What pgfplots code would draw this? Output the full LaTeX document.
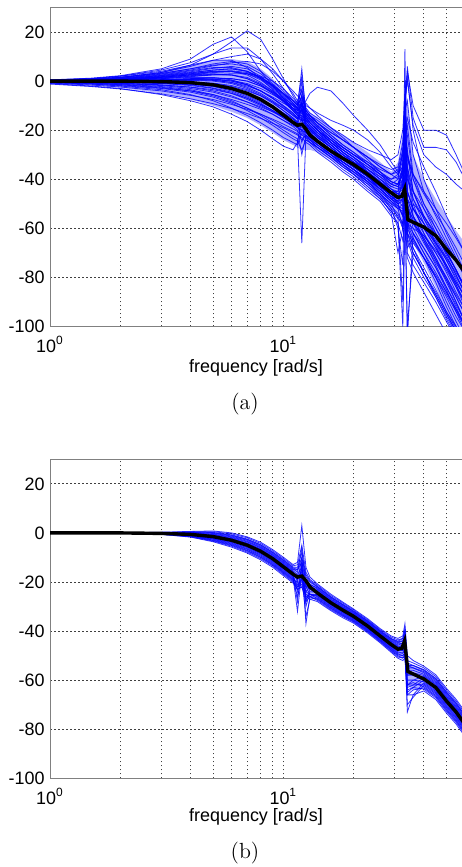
\documentclass[border=0pt]{standalone}
\usepackage{pgfplots}
\pgfplotsset{compat=1.18}
\usepackage{pgfplotstable}
\usepackage{fontspec}
\newfontfamily\arial{Liberation Sans}

% Monte Carlo runs, one row per run, transposed below (first row = frequency)
\pgfplotstableread{
name c1 c2 c3 c4 c5 c6 c7 c8 c9 c10 c11 c12 c13 c14 c15 c16 c17 c18 c19 c20 c21 c22 c23 c24 c25 c26 c27 c28 c29 c30 c31 c32 c33
x 1 1.5 2 3 4 5 6 7 8 9 10 11 11.5 12 12.5 13 14 16 18 20 23 26 29 31 32.5 33.2 34 36 40 45 50 55 60
U1 0.3 0.8 1.5 3.5 6.5 11 16 20.5 17 9 1 -6 -9 -10 -12 -14 -17 -22 -26 -29 -33 -37 -41 -42 -38 -30 -45 -52 -60 -68 -75 -82 -88
U2 0.5 1.2 2.2 5 9 15 18 12 4 -2 -7 -11 -13 -12 -15 -17 -20 -25 -29 -32 -37 -41 -45 -46 -43 -38 -50 -57 -65 -73 -80 -87 -93
U3 0.4 1 2 4.5 7.5 11 13.5 13.5 9 3 -3 -8 -10 5 -14 -16 -19 -24 -28 -31 -35 -39 -43 -44 -36 -20 -40 -48 -56 -64 -72 -79 -86
U4 0.3 0.8 1.5 3.5 6 8.5 10 11 9 5 0 -5 -8 -4 -12 -14 -17 -22 -26 -29 -34 -38 -42 -43 -40 -30 -48 -55 -62 -70 -77 -84 -90
U5 0.5 1 2 4 6.5 8.5 8.5 5.5 1 -3.5 -8 -12 -14 -15 -17 -19 -22 -27 -31 -34 -39 -44 -48 -50 -49 -40 -55 -62 -70 -78 -86 -93 -100
U6 0.2 0.6 1.2 2.8 4.5 6.2 7.5 8 7 4 0 -4 -6 -8 -9 -11 -14 -19 -23 -27 -32 -37 -41 -42 -38 -25 -30 -40 -50 -58 -66 -73 -80
U7 0.2 0.5 1 2.3 3.8 5.2 6 5 2 -2 -6 -10 -12 -10 -14 -17 -20 -25 -29 -32 -37 -41 -45 -45 -35 -10 -35 -45 -55 -63 -70 -77 -84
U8 0.1 0.3 0.7 1.5 2.7 3.8 4 3 0.5 -3 -7 -11 -13 -8 -16 -18 -21 -26 -30 -33 -37 -41 -44 -46 -44 -20 -52 -58 -66 -74 -81 -88 -95
U9 0 0.2 0.5 1.2 2 2.6 3 3 2 0 -3 -7 -9 2 -12 -14 -17 -21 -24 -27 -31 -35 -38 -40 -36 -22 -40 -45 -52 -60 -67 -73 -79
M1 0 0 0.2 0.5 0.8 0.8 0 -1.5 -4 -7 -10 -13 -15 -12 -17 -19 -22 -26 -30 -33 -37 -41 -45 -47 -45 -30 -52 -56 -60 -66 -72 -78 -84
M2 -0.2 -0.3 -0.4 -0.7 -1.2 -2.2 -4 -6.5 -9 -12 -15 -17.5 -19 -15 -21 -23 -25 -29 -32 -35 -39 -43 -47 -49 -48 -43 -58 -60 -63 -69 -75 -82 -88
M3 0.1 0.2 0.4 1 1.5 1.5 0.5 -1.5 -4 -7 -10 -13 -15 -16 -18 -20 -23 -27 -31 -34 -39 -43 -47 -48 -40 0 -30 -45 -55 -63 -70 -77 -84
M4 -0.3 -0.5 -0.8 -1.5 -2.5 -4 -6 -8.5 -11 -13.5 -16 -18.5 -20 -30 -22 -24 -26 -30 -34 -37 -41 -45 -49 -51 -55 -48 -62 -66 -72 -79 -86 -93 -99
M5 0 0.1 0.3 0.6 1 1.2 1 0 -2 -5 -8 -11 -12 0 -16 -17 -20 -24 -28 -31 -36 -40 -44 -45 -42 -35 -48 -52 -58 -66 -73 -80 -86
M6 -0.1 -0.2 -0.3 -0.4 -0.8 -1.8 -3.5 -6 -8.5 -11 -14 -17 -18 -25 -20 -22 -25 -29 -33 -36 -40 -45 -49 -52 -60 -10 -50 -60 -68 -76 -84 -91 -98
M7 0.2 0.4 0.8 1.8 3 4 4 2.5 -0.5 -4 -8 -12 -14 -14 -16 -18 -21 -26 -30 -34 -39 -44 -49 -52 -50 -38 -62 -70 -78 -86 -94 -100 -106
M8 -0.2 -0.3 -0.5 -0.9 -1.5 -2.8 -4.5 -7 -9.5 -12 -14.5 -16.5 -17 -5 -20 -22 -25 -29 -33 -36 -41 -46 -52 -60 -75 -40 -65 -72 -80 -88 -96 -103 -110
M9 0.3 0.6 1.2 2.5 4.2 5.5 5.5 4 1 -2.5 -6.5 -10 -11.5 -12 -14 -16 -19 -24 -28 -31 -36 -40 -44 -46 -47 -20 -45 -52 -60 -68 -76 -83 -90
M10 -0.1 -0.1 -0.2 -0.3 -0.4 -0.8 -1.8 -3.5 -6 -9 -12 -15 -17 -19 -20 -22 -25 -30 -34 -38 -43 -48 -53 -58 -100 -60 -58 -68 -78 -88 -97 -104 -110
M11 0.4 0.9 1.6 3.2 5 6.5 7 6 3 -1 -5 -9 -11 -13 -15 -17 -20 -25 -29 -33 -38 -42 -46 -48 -49 -45 -35 -55 -65 -75 -84 -92 -100
M12 -0.3 -0.6 -1 -1.8 -3 -4.5 -6.5 -8.5 -10.5 -12.5 -14.5 -16.5 -17.5 -22 -19 -21 -24 -28 -32 -35 -39 -43 -47 -50 -55 -30 -58 -64 -72 -80 -87 -94 -100
L1 -0.5 -1 -1.5 -2.8 -4 -5.5 -7.5 -9.5 -11.5 -13.5 -16 -18 -19 -20 -21 -22.5 -25 -29 -33 -36 -41 -46 -50 -52 -53 -50 -60 -65 -72 -80 -88 -96 -102
L2 -0.8 -1.6 -2.4 -4 -5.8 -7.5 -9.5 -11.5 -13.5 -15.5 -17.5 -19.5 -20.5 -22 -23 -24 -27 -31 -35 -38 -43 -47 -52 -55 -60 -45 -70 -75 -82 -90 -98 -105 -110
L3 -1.2 -2.2 -3.2 -5.2 -7.2 -9.2 -11.2 -13.2 -15.2 -17.2 -19 -21 -22 -23 -25 -26 -29 -33 -37 -40 -45 -49 -55 -58 -65 -55 -72 -78 -86 -95 -103 -110 -115
L4 -1 -2 -3 -5.5 -8 -10.5 -13.5 -16.5 -20 -23.5 -26.5 -28 -25 -15 -23 -25 -28 -32 -36 -39 -44 -48 -53 -56 -58 -52 -64 -70 -78 -87 -95 -102 -108
L5 -0.6 -1.2 -2 -3.5 -5.5 -8 -11 -14 -17 -20 -23 -25 -26 -20 -24 -25 -27 -31 -34 -37 -42 -47 -54 -70 -60 -55 -62 -68 -76 -85 -94 -101 -107
L6 -0.4 -0.8 -1.2 -2.2 -3.5 -5.5 -8 -11 -14 -17 -20 -22.5 -23.5 -66 -22 -24 -27 -31 -35 -38 -42 -46 -51 -54 -58 -48 -105 -62 -70 -80 -90 -98 -105
O1 0 0 0.1 0.3 0.5 0.3 -0.5 -2 -4 -6.5 -9 -11 -12 -10 -8 -5 -2.5 -4 -9 -14 -20 -26 -33 -37 -35 -20 -32 -38 -45 -52 -58 -64 -70
O2 0.2 0.5 1 2.2 3.5 4.5 5 4 1.5 -1.5 -5 -8 -9.5 -7 -11 -13 -15 -19 -22 -25 -28 -30 -32 -30 -20 -5 4 -10 -20 -20 -22 -30 -38
O3 0 0.1 0.2 0.6 1 1.3 1 0 -2 -4.5 -7 -9.5 -11 -9 -13 -15 -17 -21 -24 -27 -31 -35 -38 -37 -30 -15 6 -15 -27 -27 -28 -33 -40
O4 0.1 0.3 0.6 1.5 2.5 3.5 3.8 3 1 -2 -5 -8 -10 -3 -12 -14 -16 -20 -24 -27 -31 -34 -36 -35 -25 -8 0 -18 -30 -35 -38 -42 -45
O5 0 0 0.1 0.4 0.7 0.8 0.3 -1 -3 -5.5 -8 -10 -11 -6 -10 -11 -13 -16 -18 -20 -24 -29 -35 -38 -35 -25 -30 -38 -46 -54 -61 -68 -75
O6 0 0 0 -0.1 -0.4 -1 -2.2 -4 -6 -8.5 -11 -14 -15.5 -9 -18 -20 -23 -27 -31 -34 -38 -42 -46 -48 -45 13 -60 -50 -55 -62 -70 -77 -84
E1 0 0 0.1 0.3 0.5 0.6 0 -1.5 -4 -7 -10.5 -13.5 -15 -11 -17 -19 -22 -26 -30 -33 -36 -39 -42 -40 -28 -12 -8 -30 -45 -55 -64 -72 -80
E2 0.1 0.2 0.5 1 1.8 2.5 2.5 1.5 -1 -4 -7.5 -11 -13 -9 -15 -17 -20 -25 -29 -32 -36 -40 -43 -42 -35 -25 -18 -38 -50 -60 -69 -77 -85
E3 -0.2 -0.4 -0.6 -1 -1.8 -3 -5 -7.5 -10 -12.5 -15 -17.5 -19 -20 -21 -23 -26 -30 -33 -36 -40 -44 -48 -47 -42 -30 -38 -50 -62 -72 -81 -90 -98
E4 0.2 0.5 0.9 2 3.3 4.5 5 4 1.5 -2 -5.5 -9 -11 -9 -13 -15 -18 -23 -27 -30 -34 -38 -42 -43 -38 -15 -22 -40 -52 -62 -71 -79 -87
E5 -0.4 -0.8 -1.4 -2.5 -4 -6 -8.5 -11 -13.5 -16 -18.5 -20.5 -21.5 -24 -22 -23.5 -26 -30 -34 -37 -41 -46 -50 -56 -90 -50 -100 -70 -78 -87 -95 -102 -108
E6 0 0.1 0.2 0.4 0.6 0.4 -0.6 -2.5 -5 -8 -11 -14 -15.5 -13 -17 -19.5 -22.5 -27 -31 -34 -38 -43 -47 -49 -51 -45 -56 -58 -63 -70 -78 -86 -93
E7 0.3 0.7 1.4 3 5 7 8 7 4 0 -4 -8 -10 -6 -13 -15 -18 -23 -27 -30 -34 -38 -41 -42 -36 -22 -28 -45 -56 -66 -75 -83 -91
E8 -0.1 -0.2 -0.3 -0.6 -1 -1.8 -3 -5 -7.5 -10 -13 -15.5 -17 -18 -19 -21 -24 -28 -32 -35 -39 -43 -46 -45 -40 -25 -48 -55 -64 -73 -82 -90 -98
E9 0.2 0.4 0.8 1.6 2.5 3 2.5 1 -1.5 -5 -8.5 -12 -14 -16 -16 -18 -21 -25 -28 -31 -35 -38 -40 -38 -30 -20 -15 -25 -35 -45 -55 -63 -70
E10 -0.3 -0.6 -0.9 -1.6 -2.4 -3.5 -5 -7 -9.5 -12 -14.5 -17 -18.5 -10 -21 -22 -25 -29 -33 -36 -40 -44 -48 -51 -52 -48 -58 -62 -68 -76 -85 -94 -102
E11 0.1 0.3 0.6 1.3 2.2 2.8 2.5 1 -1.5 -4.5 -8 -11.5 -13.5 -12 -15 -17 -20 -24 -27 -30 -33 -36 -38 -36 -28 -10 2 -20 -40 -52 -62 -70 -78
E12 -0.6 -1.2 -1.8 -3 -4.5 -6.5 -9 -12 -15 -18 -21 -23.5 -24.5 -28 -24 -25 -27 -30 -33 -36 -40 -44 -48 -50 -48 -42 -55 -58 -64 -72 -80 -88 -95
E13 0 0 0.1 0.2 0.3 0 -1 -3 -5.5 -8.5 -12 -15 -16.5 -14 -18 -20 -23 -27 -31 -34 -38 -42 -46 -50 -55 -20 -68 -64 -72 -82 -92 -100 -108
E14 0.2 0.4 0.8 1.8 3 4 4.2 3.5 1.5 -1.5 -5 -9 -11 -11.5 -13 -15.5 -18.5 -23 -27 -30 -34 -37 -40 -39 -32 -18 -35 -48 -58 -67 -76 -84 -92
E15 -0.2 -0.3 -0.5 -0.9 -1.3 -2 -3.2 -5.2 -7.5 -10.5 -13 -15.5 -17 -20 -19 -21 -24 -28.5 -32 -35 -39 -43 -47 -49 -45 -35 -45 -52 -58 -65 -73 -81 -88
}\rawA
\pgfplotstabletranspose[colnames from=name]\dataA{\rawA}

% dense core of the runs in (a): upper edge left to right, lower edge back
\pgfplotstableread{
x y
1 0.5
1.5 1
2 1.8
3 4
4 6.5
5 8.5
6 9
7 8
8 5
9 1
10 -4
11 -8
12 -8
13 -13
14 -15
16 -19
18 -22
20 -25
23 -29
26 -33
29 -37
31 -33
32.5 -22
33.2 -5
34 -8
36 -30
40 -40
45 -48
50 -55
55 -61
60 -66
60 -110
55 -104
50 -95
45 -84
40 -74
36 -66
34 -62
33.2 -55
32.5 -58
31 -55
29 -52
26 -47
23 -42
20 -38
18 -35
16 -32
14 -29
13 -28
12 -28
11 -26
10 -24
9 -21
8 -18
7 -15
6 -12.5
5 -10
4 -7.5
3 -5
2 -2.7
1.5 -1.8
1 -1
}\envA

\pgfplotstableread{
name c1 c2 c3 c4 c5 c6 c7 c8 c9 c10 c11 c12 c13 c14 c15 c16 c17 c18 c19 c20 c21 c22 c23 c24 c25 c26 c27 c28 c29 c30 c31 c32 c33
x 1 1.5 2 3 4 5 6 7 8 9 10 11 11.5 12 12.5 13 14 16 18 20 23 26 29 31 32.5 33.2 34 36 40 45 50 55 60
B1 0 0 0 0.3 0.6 0.8 0 -1.6 -3.8 -6.8 -9.9 -12.9 -12 3 -14 -18 -20.8 -25 -28.2 -31 -35 -39 -42 -43 -42 -37 -50 -52 -54.3 -57.8 -63.3 -67.8 -72.8
B2 0 0 0 0.2 0.4 0.5 -0.4 -2 -4.3 -7.3 -10.4 -13.4 -13 -5 -16 -19 -21.3 -25.5 -28.6 -31.4 -35.4 -39.4 -42.5 -43.6 -43 -39 -52 -53 -55 -58.5 -64 -68.5 -73.5
B3 0 0 0 0.1 0.3 0.2 -0.8 -2.5 -4.8 -7.8 -10.9 -13.9 -14 -8 -17 -19.5 -21.8 -26 -29.1 -31.8 -35.8 -39.8 -43 -44.1 -43 -40 -53 -54 -55.7 -59.2 -64.7 -69.2 -74.2
B4 0 0 0 0.1 0.2 0 -1 -2.7 -5 -8 -11.2 -14.2 -15 -10 -18 -20 -22 -26.2 -29.3 -32 -36 -40 -43.2 -44.4 -44 -41 -54 -54 -56 -59.5 -65 -69.5 -74.5
B5 0 0 0 0.1 0.1 -0.2 -1.3 -3 -5.4 -8.4 -11.6 -14.6 -16 -6 -22 -21 -22.4 -26.5 -29.6 -32.3 -36.3 -40.3 -43.5 -44.8 -44 -42 -55 -55 -56.5 -60 -65.5 -70 -75
B6 0 0 0 0 0 -0.5 -1.6 -3.4 -5.8 -8.8 -12 -15 -15 -12 -20 -21 -22.8 -26.9 -30 -32.6 -36.6 -40.6 -43.9 -45.2 -45 -42 -54 -55 -57 -60.6 -66 -70.6 -75.6
B7 0 0 0 0 -0.2 -0.7 -1.9 -3.7 -6.1 -9.1 -12.4 -15.4 -17 -14 -24 -22 -23.1 -27.2 -30.3 -32.9 -36.9 -40.9 -44.2 -45.7 -45 -43 -56 -56 -57.6 -61.1 -66.6 -71.1 -76.1
B8 0 0 0 -0.1 -0.3 -0.9 -2.2 -4.1 -6.5 -9.5 -12.8 -15.8 -20 -10 -28 -23 -23.5 -27.6 -30.6 -33.2 -37.2 -41.2 -44.6 -46.1 -46 -44 -58 -57 -58.1 -61.6 -67.1 -71.6 -76.6
B9 0 0 0 -0.1 -0.4 -1.1 -2.4 -4.3 -6.8 -9.8 -13 -16 -19 -15 -22 -23 -23.8 -27.8 -30.8 -33.4 -37.4 -41.4 -44.8 -46.4 -46 -44 -60 -60 -58.5 -62 -67.5 -72 -77
B10 0 0 0 -0.2 -0.5 -1.3 -2.7 -4.7 -7.1 -10.1 -13.4 -16.4 -24 -13 -30 -24 -24.1 -28.2 -31.2 -33.7 -37.7 -41.7 -45.2 -46.8 -47 -45 -62 -62 -59 -62.5 -68 -72.5 -77.5
B11 0 0 0 -0.2 -0.6 -1.5 -3 -5 -7.5 -10.5 -13.8 -16.8 -18 -16 -21 -23 -24.5 -28.5 -31.5 -34 -38 -42 -45.5 -47.2 -47 -46 -58 -58 -59.5 -63 -68.5 -73 -78
B12 0 0 0 -0.3 -0.7 -1.7 -3.3 -5.4 -7.9 -10.9 -14.2 -17.2 -28 -12 -37 -26 -24.9 -28.9 -31.8 -34.3 -38.3 -42.3 -45.9 -47.6 -48 -46 -65 -63 -60 -63.5 -69 -73.5 -78.5
B13 0 0 0 -0.3 -0.8 -2 -3.6 -5.7 -8.3 -11.3 -14.6 -17.6 -22 -18 -26 -25 -25.3 -29.2 -32.2 -34.6 -38.6 -42.6 -46.2 -48 -48 -47 -62 -60 -60.6 -64.1 -69.6 -74.1 -79.1
B14 0 0 0 -0.3 -1 -2.2 -3.9 -6 -8.6 -11.6 -15 -18 -32 -16 -27 -25 -25.6 -29.5 -32.5 -34.9 -38.9 -42.9 -46.5 -48.5 -49 -47 -73 -66 -61.1 -64.6 -70.1 -74.6 -79.6
B15 0 0 0 -0.4 -1.1 -2.4 -4.2 -6.4 -9 -12 -15.4 -18.4 -21 -19 -24 -25 -26 -29.9 -32.8 -35.2 -39.2 -43.2 -46.9 -48.9 -49 -48 -63 -62 -61.6 -65.1 -70.6 -75.1 -80.1
B16 0 0 0 -0.4 -1.2 -2.6 -4.5 -6.7 -9.4 -12.4 -15.8 -18.8 -26 -18 -34 -27 -26.4 -30.2 -33.2 -35.5 -39.5 -43.5 -47.2 -49.3 -50 -49 -70 -67 -62.1 -65.6 -71.1 -75.6 -80.6
B17 0 0 0 -0.5 -1.3 -2.9 -4.8 -7.1 -9.8 -12.8 -16.1 -19.1 -20 -20 -22 -25 -26.8 -30.6 -33.5 -35.8 -39.8 -43.8 -47.6 -49.7 -50 -49 -62 -61 -62.7 -66.2 -71.7 -76.2 -81.2
B18 0 0 0 -0.5 -1.4 -3.1 -5.1 -7.4 -10.1 -13.1 -16.5 -19.5 -23 -22 -28 -26 -27.1 -30.9 -33.8 -36.1 -40.1 -44.1 -47.9 -50.1 -51 -50 -66 -64 -63.2 -66.7 -72.2 -76.7 -81.7
B19 0 0 0 -0.6 -1.6 -3.3 -5.4 -7.8 -10.5 -13.5 -16.9 -19.9 -22 -21 -25 -26 -27.5 -31.3 -34.1 -36.4 -40.4 -44.4 -48.3 -50.6 -51 -50 -64 -63 -63.7 -67.2 -72.7 -77.2 -82.2
B20 0 0 0 -0.6 -1.7 -3.6 -5.8 -8.2 -11 -14 -17.4 -20.4 -23 -22 -26 -27 -28 -31.7 -34.6 -36.8 -40.8 -44.8 -48.7 -51.1 -52 -51 -66 -66 -64.4 -67.9 -73.4 -77.9 -82.9
}\rawB
\pgfplotstabletranspose[colnames from=name]\dataB{\rawB}

% dense core of the runs in (b)
\pgfplotstableread{
x y
1 0
2 0
3 0.1
4 0.3
5 0.2
6 -0.8
7 -2.5
8 -4.8
9 -7.8
10 -10.9
11 -13.9
11.5 -14
12 -10
12.5 -17
13 -19.5
14 -21.8
16 -26
18 -29.1
20 -31.8
23 -35.8
26 -39.8
29 -43
31 -44.1
32.5 -43
33.2 -40
34 -53
36 -54
40 -55.7
45 -59.2
50 -64.7
55 -69.2
60 -74.2
60 -81.7
55 -76.7
50 -72.2
45 -66.7
40 -63.2
36 -64
34 -62
33.2 -50
32.5 -51
31 -50.1
29 -47.9
26 -44.1
23 -40.1
20 -36.1
18 -33.8
16 -30.9
14 -27.1
13 -26
12.5 -26
12 -22
11.5 -22
11 -19.5
10 -16.5
9 -13.1
8 -10.1
7 -7.4
6 -5.1
5 -3.1
4 -1.4
3 -0.5
2 0
1 0
}\envB

% nominal model
\pgfplotstableread{
x y
1 0
2 0
3 -0.2
4 -0.6
5 -1.5
6 -3
7 -5
8 -7.5
9 -10.5
10 -13.8
11 -16.8
11.5 -18
12 -17.6
12.5 -19.5
13 -22
14 -24.5
16 -28.5
18 -31.5
20 -34
23 -38
26 -42
29 -45.5
31 -47.4
32.2 -47
33.1 -44
34.2 -56.5
36 -57.5
40 -59.5
45 -63
50 -68.5
55 -73
60 -78
}\nominal

\tikzset{
  mcrun/.style={blue, line width=0.4bp, opacity=0.8, mark=none},
  nomline/.style={black, line width=1.7bp, mark=none},
  core/.style={draw=none, fill=blue!30, mark=none},
}

\begin{document}
\begin{tikzpicture}
\useasboundingbox (0,0) rectangle (231bp,433.5bp);

\begin{axis}[
    at={(25bp,270.25bp)}, anchor=south west,
    scale only axis, width=206bp, height=159.5bp,
    xmode=log, xmin=1, xmax=58.3, ymin=-100, ymax=30,
    axis x line*=box, axis y line*=left,
    axis line style={black!50, line width=0.5bp},
    xtick={1,10}, xticklabels={10\textsuperscript{0},10\textsuperscript{1}},
    minor xtick={2,3,4,5,6,7,8,9,20,30,40,50},
    ytick={-100,-80,-60,-40,-20,0,20},
    yticklabels={-100,-80,-60,-40,-20,0,20},
    tick style={draw=none},
    grid=both,
    major grid style={black!75, line width=0.4bp, dash pattern=on 0.8bp off 1.2bp},
    minor grid style={black!75, line width=0.4bp, dash pattern=on 0.8bp off 1.2bp},
    ticklabel style={font=\arial\fontsize{9}{10}\selectfont},
    yticklabel style={xshift=0.8bp},
    xticklabel style={anchor=center, yshift=-9bp},
    xlabel={frequency [rad/s]},
    xlabel style={font=\arial\fontsize{9}{10}\selectfont, at={(axis description cs:0.5,0)}, anchor=center, yshift=-20.8bp},
]
\addplot[core] table[x=x, y=y] {\envA};
\pgfplotsinvokeforeach{U1,U2,U3,U4,U5,U6,U7,U8,U9,M1,M2,M3,M4,M5,M6,M7,M8,M9,M10,M11,M12,L1,L2,L3,L4,L5,L6,O1,O2,O3,O4,O5,O6,E1,E2,E3,E4,E5,E6,E7,E8,E9,E10,E11,E12,E13,E14,E15}{
  \addplot[mcrun] table[x=x, y=#1] {\dataA};
}
\addplot[nomline] table[x=x, y=y] {\nominal};
\end{axis}
\node[font=\fontsize{11}{13}\selectfont] at (122.5bp,231.5bp) {(a)};

\begin{axis}[
    at={(25bp,44.35bp)}, anchor=south west,
    scale only axis, width=206bp, height=159.5bp,
    xmode=log, xmin=1, xmax=58.3, ymin=-100, ymax=30,
    axis x line*=box, axis y line*=left,
    axis line style={black!50, line width=0.5bp},
    xtick={1,10}, xticklabels={10\textsuperscript{0},10\textsuperscript{1}},
    minor xtick={2,3,4,5,6,7,8,9,20,30,40,50},
    ytick={-100,-80,-60,-40,-20,0,20},
    yticklabels={-100,-80,-60,-40,-20,0,20},
    tick style={draw=none},
    grid=both,
    major grid style={black!75, line width=0.4bp, dash pattern=on 0.8bp off 1.2bp},
    minor grid style={black!75, line width=0.4bp, dash pattern=on 0.8bp off 1.2bp},
    ticklabel style={font=\arial\fontsize{9}{10}\selectfont},
    yticklabel style={xshift=0.8bp},
    xticklabel style={anchor=center, yshift=-9bp},
    xlabel={frequency [rad/s]},
    xlabel style={font=\arial\fontsize{9}{10}\selectfont, at={(axis description cs:0.5,0)}, anchor=center, yshift=-19.5bp},
]
\addplot[core] table[x=x, y=y] {\envB};
\pgfplotsinvokeforeach{B1,B2,B3,B4,B5,B6,B7,B8,B9,B10,B11,B12,B13,B14,B15,B16,B17,B18,B19,B20}{
  \addplot[mcrun] table[x=x, y=#1] {\dataB};
}
\addplot[nomline] table[x=x, y=y] {\nominal};
\end{axis}
\node[font=\fontsize{11}{13}\selectfont] at (122.5bp,7.2bp) {(b)};
\end{tikzpicture}
\end{document}
